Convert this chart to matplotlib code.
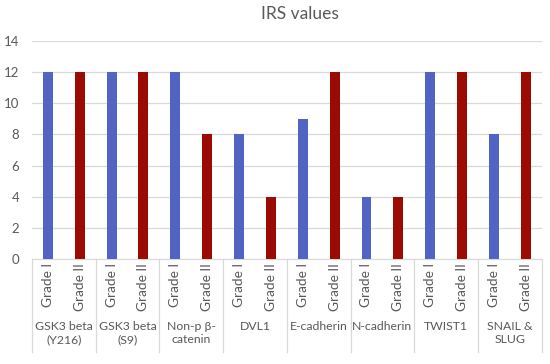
import matplotlib.pyplot as plt
import matplotlib.transforms as mtransforms
import numpy as np

plt.rcParams['font.family'] = ['Lato', 'DejaVu Sans']

markers = ['GSK3 beta\n(Y216)', 'GSK3 beta\n(S9)', 'Non-p β-\ncatenin', 'DVL1',
           'E-cadherin', 'N-cadherin', 'TWIST1', 'SNAIL &\nSLUG']
grades = ['Grade I', 'Grade II']
grade1 = [12, 12, 12, 8, 9, 4, 12, 8]
grade2 = [12, 12, 8, 4, 12, 4, 12, 12]

blue = '#5163C3'
red = '#9B0B02'
grey_txt = '#595959'

fig = plt.figure(figsize=(5.5, 3.64), dpi=100)
ax = fig.add_axes([0.058, 0.2885, 0.927, 0.5985])

n = len(markers)
x1 = np.arange(n) * 2
x2 = x1 + 1
ax.bar(x1, grade1, width=0.31, color=blue, zorder=3)
ax.bar(x2, grade2, width=0.31, color=red, zorder=3)

ax.set_xlim(-0.5, 2 * n - 0.5)
ax.set_ylim(0, 14)
ax.set_yticks(range(0, 15, 2))
ax.grid(axis='y', color='#D9D9D9', linewidth=0.9, zorder=0)
for s in ['top', 'right', 'left']:
    ax.spines[s].set_visible(False)
ax.spines['bottom'].set_color('#D9D9D9')
ax.tick_params(axis='y', length=0, labelsize=9.5, labelcolor=grey_txt, pad=9)

xt = np.empty(2 * n)
xt[0::2] = x1
xt[1::2] = x2
ax.set_xticks(xt)
ax.set_xticklabels(grades * n, rotation=90, fontsize=9.8, color=grey_txt)
ax.tick_params(axis='x', length=0, pad=3)

trans = mtransforms.blended_transform_factory(ax.transData, ax.transAxes)
# group separators below the axis
for b in np.arange(n + 1) * 2 - 0.5:
    ax.plot([b, b], [0, -0.427], transform=trans, color='#D9D9D9',
            linewidth=0.9, clip_on=False)
for i, m in enumerate(markers):
    ax.text(x1[i] + 0.5, -0.285, m, transform=trans, ha='center', va='top',
            fontsize=8.8, color=grey_txt, linespacing=1.2)

fig.text(0.545, 0.962, 'IRS values', ha='center', va='center',
         fontsize=12.5, color=grey_txt)

fig.savefig('out.png', dpi=100)
